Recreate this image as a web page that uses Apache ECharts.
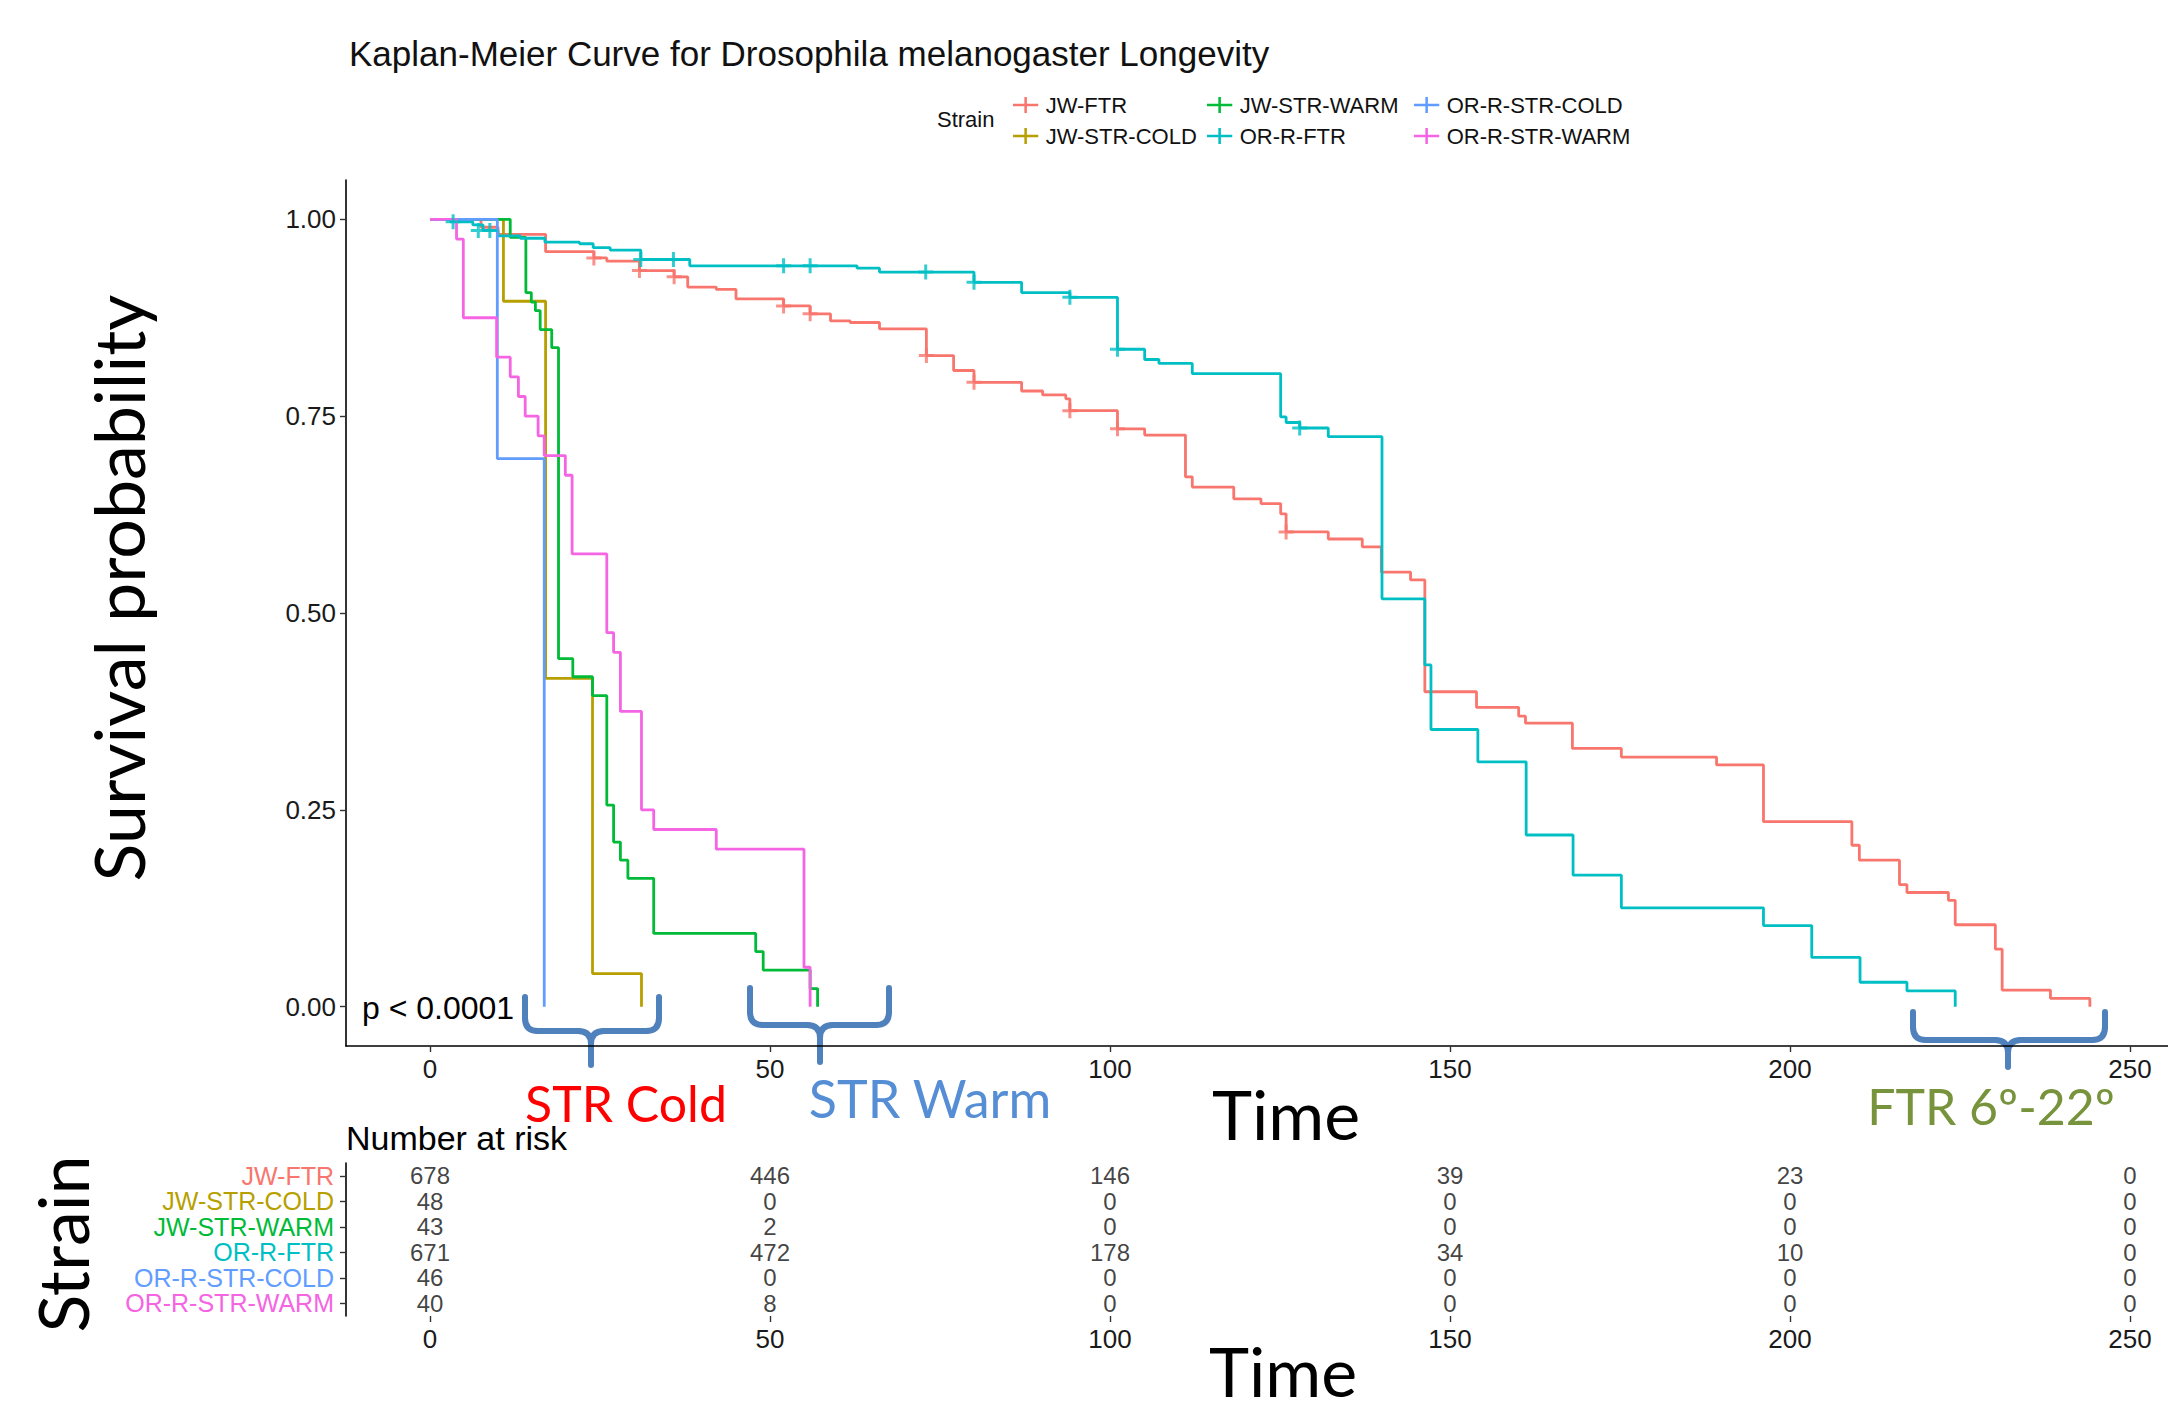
<!DOCTYPE html>
<html><head><meta charset="utf-8">
<script src="https://cdn.jsdelivr.net/npm/echarts@6/dist/echarts.min.js"></script>
<style>html,body{margin:0;padding:0;background:#fff}#c{width:2168px;height:1408px}</style>
</head><body><div id="c"></div>
<script>
// ---------- data ----------
const strains = ['JW-FTR','JW-STR-COLD','JW-STR-WARM','OR-R-FTR','OR-R-STR-COLD','OR-R-STR-WARM'];
const timeTicks = [0,50,100,150,200,250];
const survTicks = [0,0.25,0.5,0.75,1];

const JW_FTR = [[0,1],[7.5,0.99],[10,0.981],[17,0.959],[24.1,0.951],[26,0.947],[30.8,0.935],[35.9,0.927],[37.9,0.914],[42.1,0.911],[45,0.899],[52,0.89],[55.9,0.88],[58.9,0.871],[61.8,0.869],[66.1,0.861],[73,0.827],[77,0.808],[80,0.793],[87,0.782],[90.1,0.777],[93.5,0.772],[94.1,0.757],[101.1,0.734],[105.1,0.726],[111.1,0.673],[112.1,0.66],[118.2,0.645],[122.2,0.639],[125.1,0.626],[125.9,0.603],[132.1,0.594],[137.1,0.584],[139.9,0.552],[144.2,0.542],[146.3,0.4],[153.9,0.38],[160.1,0.369],[161.1,0.36],[168,0.328],[175.2,0.317],[189.2,0.307],[196.1,0.235],[209.1,0.205],[210.2,0.186],[216.1,0.155],[217.2,0.145],[223.3,0.135],[224.3,0.104],[230.2,0.073],[231.2,0.021],[238.3,0.0105],[244.1,0]];
const JW_STR_COLD = [[0,1],[10.8,0.896],[17,0.417],[23.9,0.042],[31.1,0]];
const JW_STR_WARM = [[0,1],[11.8,0.977],[14.1,0.907],[14.9,0.895],[15.5,0.884],[16.2,0.86],[17.9,0.837],[18.9,0.442],[21,0.419],[23.9,0.395],[26,0.256],[27,0.209],[28,0.186],[29.1,0.163],[32.9,0.093],[47.9,0.07],[49,0.0465],[55.9,0.023],[57,0]];
const OR_R_FTR = [[0,1],[3,0.997],[6.3,0.993],[7.8,0.986],[10,0.979],[13.3,0.976],[16.9,0.971],[22,0.969],[24,0.964],[26.5,0.961],[31,0.949],[38.2,0.941],[62.8,0.938],[66.1,0.933],[80,0.92],[87,0.907],[94.1,0.901],[101.1,0.835],[105.1,0.822],[107.2,0.817],[112.1,0.804],[125.1,0.749],[125.9,0.742],[127.9,0.735],[132.1,0.724],[140,0.518],[146.3,0.434],[147.2,0.352],[154.1,0.311],[161.2,0.218],[168.1,0.167],[175.2,0.1255],[196.1,0.103],[203.2,0.0625],[210.3,0.031],[217.2,0.02],[224.3,0]];
const OR_R_STR_COLD = [[0,1],[9.9,0.696],[16.8,0]];
const OR_R_STR_WARM = [[0,1],[3.9,0.975],[4.9,0.875],[9.8,0.825],[11.8,0.8],[13,0.775],[14,0.75],[15.9,0.725],[16.8,0.7],[19.9,0.675],[20.9,0.575],[26,0.475],[27,0.45],[28,0.375],[31.1,0.25],[32.9,0.225],[42.1,0.2],[55,0.05],[55.9,0]];

const JW_FTR_CENSOR = [[24.1,0.951],[30.8,0.935],[35.9,0.927],[52,0.89],[55.9,0.88],[73,0.827],[80,0.793],[94.1,0.757],[101.1,0.734],[125.9,0.603]];
const OR_R_FTR_CENSOR = [[3.4,0.997],[7.1,0.986],[8.8,0.986],[31,0.949],[35.8,0.949],[52,0.941],[55.9,0.941],[72.9,0.933],[80,0.92],[94.1,0.901],[101.1,0.835],[127.9,0.735]];

const riskTimes = [0,50,100,150,200,250];
const RISK_JW_FTR = [678,446,146,39,23,0];
const RISK_JW_STR_COLD = [48,0,0,0,0,0];
const RISK_JW_STR_WARM = [43,2,0,0,0,0];
const RISK_OR_R_FTR = [671,472,178,34,10,0];
const RISK_OR_R_STR_COLD = [46,0,0,0,0,0];
const RISK_OR_R_STR_WARM = [40,8,0,0,0,0];

// ---------- styling ----------
const colors = ['#F8766D','#B79F00','#00BA38','#00BFC4','#619CFF','#F564E3'];
const curves = [JW_FTR, JW_STR_COLD, JW_STR_WARM, OR_R_FTR, OR_R_STR_COLD, OR_R_STR_WARM];
const riskRows = [RISK_JW_FTR, RISK_JW_STR_COLD, RISK_JW_STR_WARM, RISK_OR_R_FTR, RISK_OR_R_STR_COLD, RISK_OR_R_STR_WARM];
const SANS = "'Liberation Sans', Arial, sans-serif";
const BIG = "Lato, 'Open Sans', sans-serif";
const plusPath = 'path://M4,0h2v4h4v2h-4v4h-2v-4h-4v-2h4z';
const legendIcon = 'path://M0,8h30v3h-30z M13.5,0h3v19h-3z';
const xMin = -12.353, xMax = 255.59;

const chart = echarts.init(document.getElementById('c'), null, {renderer: 'svg'});

const series = [];
strains.forEach((s, i) => {
  series.push({
    name: s, type: 'line', step: 'end', data: curves[i], showSymbol: false,
    xAxisIndex: 0, yAxisIndex: 0, color: colors[i],
    lineStyle: {width: 2.8, color: colors[i]}, symbol: legendIcon,
    emphasis: {disabled: true}, silent: true, z: 2 + i
  });
});
series.push({type: 'scatter', xAxisIndex: 0, yAxisIndex: 0, data: JW_FTR_CENSOR, symbol: plusPath, symbolSize: 15,
  itemStyle: {color: colors[0]}, silent: true, z: 10});
series.push({type: 'scatter', xAxisIndex: 0, yAxisIndex: 0, data: OR_R_FTR_CENSOR, symbol: plusPath, symbolSize: 15,
  itemStyle: {color: colors[3]}, silent: true, z: 11});
const riskData = [];
strains.forEach((s, i) => riskTimes.forEach((t, j) => riskData.push([t, s, riskRows[i][j]])));
series.push({type: 'scatter', xAxisIndex: 1, yAxisIndex: 1, data: riskData, symbolSize: 0.1,
  itemStyle: {color: 'rgba(0,0,0,0)'}, silent: true,
  label: {show: true, position: 'inside', formatter: p => String(p.value[2]), color: '#111', fontSize: 24, lineHeight: 22, fontFamily: SANS}});

const axisLineStyle = {onZero: false, lineStyle: {color: '#000', width: 1.6}};
const tickStyle = {show: true, length: 6, lineStyle: {color: '#333', width: 1.4}, customValues: timeTicks};
const xLabel = {customValues: timeTicks, fontSize: 26, color: '#1a1a1a', margin: 10, fontFamily: SANS};

function legendCol(names, left) {
  return {data: names.map(n => ({name: n, icon: legendIcon})), orient: 'vertical', left: left, top: 89,
    itemGap: 9, itemWidth: 30, itemHeight: 16, selectedMode: false,
    textStyle: {fontSize: 22, fontFamily: SANS, color: '#111'}};
}

// curly brace made of lines and quadratic curves
function brace(xl, xr, xc, top, h, tip, r) {
  const st = {stroke: '#4F81BD', lineWidth: 6, fill: null, lineCap: 'round'};
  const L = (x1, y1, x2, y2) => ({type: 'line', shape: {x1, y1, x2, y2}, style: st});
  const Q = (x1, y1, cpx1, cpy1, x2, y2) => ({type: 'bezierCurve', shape: {x1, y1, cpx1, cpy1, x2, y2}, style: st});
  return {type: 'group', children: [
    L(xl, top, xl, h - r), Q(xl, h - r, xl, h, xl + r, h), L(xl + r, h, xc - r, h),
    Q(xc - r, h, xc, h, xc, h + r), L(xc, h + r, xc, tip), Q(xc, h + r, xc, h, xc + r, h),
    L(xc + r, h, xr - r, h), Q(xr - r, h, xr, h, xr, h - r), L(xr, h - r, xr, top)
  ]};
}

chart.setOption({
  animation: false,
  backgroundColor: '#fff',
  title: {text: 'Kaplan-Meier Curve for Drosophila melanogaster Longevity', left: 344, top: 31,
    textStyle: {fontSize: 35, fontWeight: 'normal', color: '#111', fontFamily: SANS}},
  legend: [legendCol(['JW-FTR','JW-STR-COLD'], 1008), legendCol(['JW-STR-WARM','OR-R-FTR'], 1202), legendCol(['OR-R-STR-COLD','OR-R-STR-WARM'], 1409)],
  grid: [
    {left: 346, right: 0, top: 180, height: 866},
    {left: 346, right: 0, top: 1163, height: 153}
  ],
  xAxis: [
    {type: 'value', gridIndex: 0, min: xMin, max: xMax, axisLine: axisLineStyle, splitLine: {show: false},
      axisTick: tickStyle, axisLabel: xLabel},
    {type: 'value', gridIndex: 1, min: xMin, max: xMax, axisLine: axisLineStyle, splitLine: {show: false},
      axisTick: tickStyle, axisLabel: xLabel}
  ],
  yAxis: [
    {type: 'value', gridIndex: 0, min: -0.05, max: 1.05, axisLine: {show: true, onZero: false, lineStyle: {color: '#000', width: 1.6}},
      splitLine: {show: false},
      axisTick: {show: true, length: 6, lineStyle: {color: '#333', width: 1.4}, customValues: survTicks},
      axisLabel: {customValues: survTicks, formatter: v => v.toFixed(2), fontSize: 26, color: '#1a1a1a', margin: 10, fontFamily: SANS}},
    {type: 'category', gridIndex: 1, data: strains, inverse: true,
      axisLine: {show: true, onZero: false, lineStyle: {color: '#000', width: 1.6}},
      axisTick: {show: true, length: 6, alignWithLabel: true, interval: 0, lineStyle: {color: '#333', width: 1.4}},
      axisLabel: {fontSize: 25, lineHeight: 24, margin: 12, interval: 0, fontFamily: SANS, color: (v) => colors[strains.indexOf(v)]}}
  ],
  graphic: [
    {type: 'text', x: 937, y: 119, style: {text: 'Strain', fontSize: 22, fontFamily: SANS, fill: '#111', verticalAlign: 'middle'}},
    {type: 'text', x: 362, y: 1008, style: {text: 'p < 0.0001', fontSize: 32, fontFamily: SANS, fill: '#000', verticalAlign: 'middle'}},
    {type: 'text', x: 346, y: 1138, style: {text: 'Number at risk', fontSize: 34, fontFamily: SANS, fill: '#000', verticalAlign: 'middle'}},
    {type: 'text', x: 118, y: 588, rotation: Math.PI / 2,
      style: {text: 'Survival probability', fontSize: 70, fontFamily: BIG, fill: '#000', align: 'center', verticalAlign: 'middle'}},
    {type: 'text', x: 62, y: 1244, rotation: Math.PI / 2,
      style: {text: 'Strain', fontSize: 70, fontFamily: BIG, fill: '#000', align: 'center', verticalAlign: 'middle'}},
    {type: 'text', x: 1286, y: 1113, style: {text: 'Time', fontSize: 68, fontFamily: BIG, fill: '#000', align: 'center', verticalAlign: 'middle'}},
    {type: 'text', x: 1283, y: 1370, style: {text: 'Time', fontSize: 68, lineHeight: 56, fontFamily: BIG, fill: '#000', align: 'center', verticalAlign: 'middle'}},
    {type: 'text', x: 626, y: 1103, style: {text: 'STR Cold', fontSize: 50, fontFamily: BIG, fill: '#FF0000', align: 'center', verticalAlign: 'middle'}},
    {type: 'text', x: 930, y: 1098, style: {text: 'STR Warm', fontSize: 52, fontFamily: BIG, fill: '#558ED5', align: 'center', verticalAlign: 'middle'}},
    {type: 'text', x: 1991, y: 1106, style: {text: 'FTR 6º-22º', fontSize: 50, fontFamily: BIG, fill: '#77933C', align: 'center', verticalAlign: 'middle'}},
    brace(525, 659, 591, 997, 1031, 1065, 13),
    brace(750, 889, 820, 988, 1025, 1062, 13),
    brace(1913, 2105, 2008, 1012, 1040, 1067, 13)
  ],
  series: series
});
</script>
</body></html>
